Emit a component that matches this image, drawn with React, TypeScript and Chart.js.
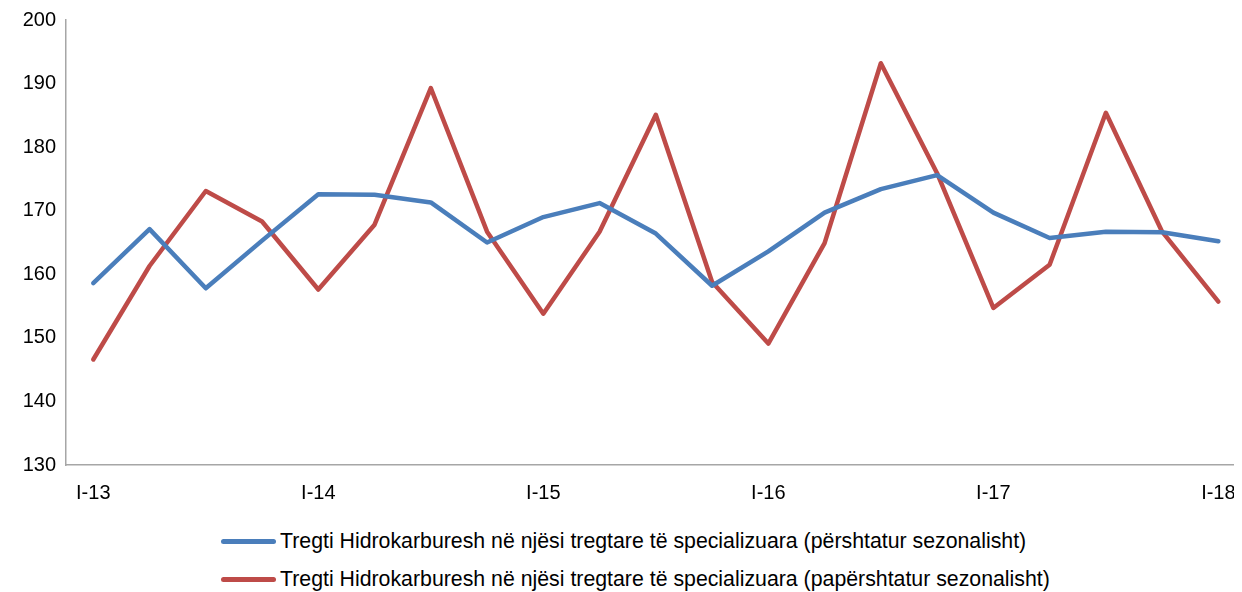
import React, { useEffect, useRef } from "react";
import { Chart, registerables } from "chart.js";

Chart.register(...registerables);

const quarterLabels = [
  "I-13", "II-13", "III-13", "IV-13",
  "I-14", "II-14", "III-14", "IV-14",
  "I-15", "II-15", "III-15", "IV-15",
  "I-16", "II-16", "III-16", "IV-16",
  "I-17", "II-17", "III-17", "IV-17",
  "I-18",
];

const seriesNames = [
  "Tregti Hidrokarburesh në njësi tregtare të specializuara (përshtatur sezonalisht)",
  "Tregti Hidrokarburesh në njësi tregtare të specializuara (papërshtatur sezonalisht)",
];

const adjusted = [
  158.6, 167.1, 157.8, 165.3, 172.6, 172.5, 171.3, 165.0, 169.0, 171.2, 166.4,
  158.2, 163.6, 169.7, 173.4, 175.6, 169.7, 165.7, 166.7, 166.6, 165.2,
];

const unadjusted = [
  146.6, 161.3, 173.1, 168.3, 157.6, 167.8, 189.3, 166.7, 153.8, 166.7, 185.1,
  158.8, 149.1, 164.9, 193.2, 175.9, 154.7, 161.5, 185.4, 166.7, 155.7,
];

const yMin = 130;
const yMax = 200;
const yStep = 10;

const colors = ["#4a7ebb", "#be4b48"];
const FONT = "'Liberation Sans', Arial, sans-serif";

export default function App() {
  const ref = useRef<HTMLCanvasElement | null>(null);

  useEffect(() => {
    if (!ref.current) return;
    const chart = new Chart(ref.current, {
      type: "line",
      data: {
        datasets: [adjusted, unadjusted].map((vals, k) => ({
          label: seriesNames[k],
          data: vals.map((v, i) => ({ x: i, y: v })),
          borderColor: colors[k],
          backgroundColor: colors[k],
          borderWidth: 4.5,
          pointRadius: 0,
          tension: 0,
          borderCapStyle: "round" as const,
          borderJoinStyle: "round" as const,
        })),
      },
      options: {
        animation: false,
        responsive: true,
        maintainAspectRatio: false,
        layout: { padding: { top: 12, left: 0, right: 0, bottom: 0 } },
        plugins: { legend: { display: false }, tooltip: { enabled: false } },
        scales: {
          x: {
            type: "linear",
            min: -0.485,
            max: 20.42,
            grid: { display: false, drawTicks: false },
            border: { display: true, color: "#a6a6a6", width: 1.5 },
            afterBuildTicks: (scale: any) => {
              scale.ticks = quarterLabels
                .map((_, i) => ({ value: i }))
                .filter((t) => t.value % 4 === 0);
            },
            afterFit: (scale: any) => {
              scale.height = 53;
              scale.paddingLeft = 0;
              scale.paddingRight = 0;
            },
            ticks: {
              padding: 16,
              autoSkip: false,
              maxRotation: 0,
              color: "#000",
              font: { family: FONT, size: 20 },
              callback: (value: any) => quarterLabels[value as number] ?? "",
            },
          },
          y: {
            min: yMin,
            max: yMax,
            grid: { display: false, drawTicks: false },
            border: { display: true, color: "#a6a6a6", width: 1.5 },
            afterFit: (scale: any) => {
              scale.width = 58;
              scale.paddingTop = 0;
              scale.paddingBottom = 0;
            },
            ticks: {
              stepSize: yStep,
              padding: 10,
              color: "#000",
              font: { family: FONT, size: 20 },
            },
          },
        },
      },
    });
    return () => chart.destroy();
  }, []);

  return (
    <div style={{ position: "relative", width: 1234, height: 584 }}>
      <div style={{ position: "absolute", left: 0, top: 0, width: 1234, height: 510 }}>
        <canvas ref={ref} />
      </div>
      <div style={{ position: "absolute", left: 213, top: 521, fontFamily: FONT, fontSize: 21.3, color: "#000" }}>
        {seriesNames.map((name, k) => (
          <div key={k} style={{ display: "flex", alignItems: "center", height: 24, marginBottom: k === 0 ? 14.6 : 0 }}>
            <span style={{ display: "inline-block", width: 55, height: 5, borderRadius: 2.5, background: colors[k] }} />
            <span style={{ whiteSpace: "nowrap", marginLeft: 4 }}>{name}</span>
          </div>
        ))}
      </div>
    </div>
  );
}
